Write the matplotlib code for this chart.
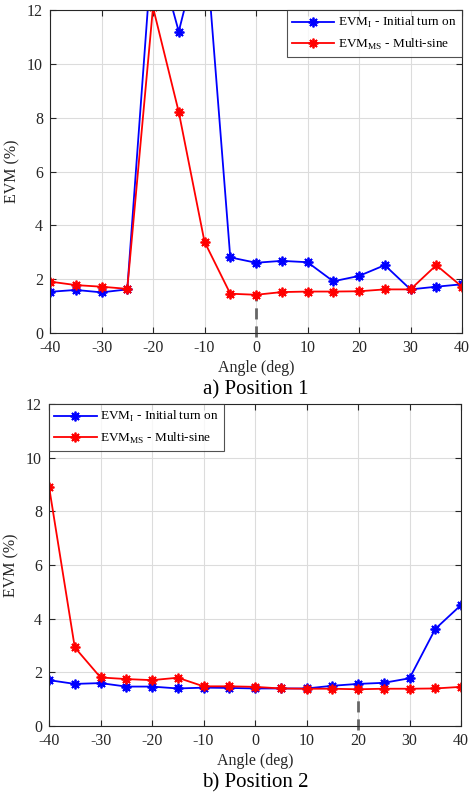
import numpy as np
import matplotlib.pyplot as plt

plt.rcParams['font.family'] = ['Liberation Serif', 'DejaVu Serif']
plt.rcParams['mathtext.fontset'] = 'custom'
plt.rcParams['mathtext.rm'] = 'Liberation Serif'
plt.rcParams['axes.unicode_minus'] = False

angles = [-40, -35, -30, -25, -20, -15, -10, -5, 0, 5, 10, 15, 20, 25, 30, 35, 40]

# Position 1
pos1_initial = [1.53, 1.60, 1.51, 1.62, 14.7, 11.2, 15.0, 2.81, 2.61, 2.68, 2.63,
                1.92, 2.12, 2.52, 1.62, 1.72, 1.81]
pos1_multisine = [1.91, 1.78, 1.72, 1.64, 12.1, 8.21, 3.39, 1.46, 1.42, 1.52, 1.54,
                  1.54, 1.55, 1.62, 1.62, 2.52, 1.72]

# Position 2
pos2_initial = [1.71, 1.57, 1.60, 1.47, 1.47, 1.40, 1.43, 1.42, 1.40, 1.40, 1.40,
                1.50, 1.57, 1.61, 1.78, 3.62, 4.51]
pos2_multisine = [8.92, 2.93, 1.81, 1.75, 1.71, 1.80, 1.48, 1.48, 1.46, 1.40, 1.39,
                  1.39, 1.37, 1.39, 1.39, 1.40, 1.46]

# dashed markers: (angle, height)
marks = [(0, 1.47), (20, 1.45)]

panels = [
    ([0.1064, 0.5806, 0.8766, 0.4068], pos1_initial, pos1_multisine, 'a) Position 1', 'upper right'),
    ([0.1043, 0.0856, 0.8767, 0.4056], pos2_initial, pos2_multisine, 'b) Position 2', 'upper left'),
]

fig = plt.figure(figsize=(4.7, 7.94), dpi=100)
ast = (8, 2, 0)
edge = '#262626'

for (rect, ini, ms, title, loc), mk in zip(panels, marks):
    ax = fig.add_axes(rect)
    ax.plot(angles, ini, color='#0000ff', lw=1.3, marker=ast, ms=7, mew=1.3,
            label=r'EVM$_{\mathrm{I}}$ - Initial turn on', clip_on=True)
    ax.plot(angles, ms, color='#ff0000', lw=1.3, marker=ast, ms=7, mew=1.3,
            label=r'EVM$_{\mathrm{MS}}$ - Multi-sine', clip_on=True)
    ax.plot([mk[0], mk[0]], [-0.15, mk[1]], color='#666666', lw=2, ls=(0, (4, 2.5)),
            clip_on=False, zorder=1)
    ax.set_xlim(-40, 40)
    ax.set_ylim(0, 12)
    ax.set_xticks(np.arange(-40, 41, 10))
    ax.set_yticks(np.arange(0, 13, 2))
    ax.grid(True, color='#dcdcdc', lw=0.8)
    ax.set_axisbelow(True)
    ax.tick_params(direction='in', top=True, right=True, length=4, color=edge,
                   labelsize=11.5, labelcolor=edge, pad=5)
    for s in ax.spines.values():
        s.set_color(edge)
        s.set_linewidth(0.8)
    ax.set_xlabel('Angle (deg)', fontsize=11.5, color=edge, labelpad=3)
    ax.set_ylabel('EVM (%)', fontsize=11.5, color=edge, labelpad=5)
    leg = ax.legend(loc=loc, fontsize=9.5, frameon=True, fancybox=False,
                    borderaxespad=0, handlelength=3.2, handletextpad=0.3,
                    borderpad=0.4, labelspacing=0.5)
    leg.get_frame().set_edgecolor(edge)
    leg.get_frame().set_linewidth(0.8)
    ax.text(0.5, -0.175, title, transform=ax.transAxes, ha='center', va='center',
            fontsize=15, color='black')

fig.savefig('out.png', dpi=100)
